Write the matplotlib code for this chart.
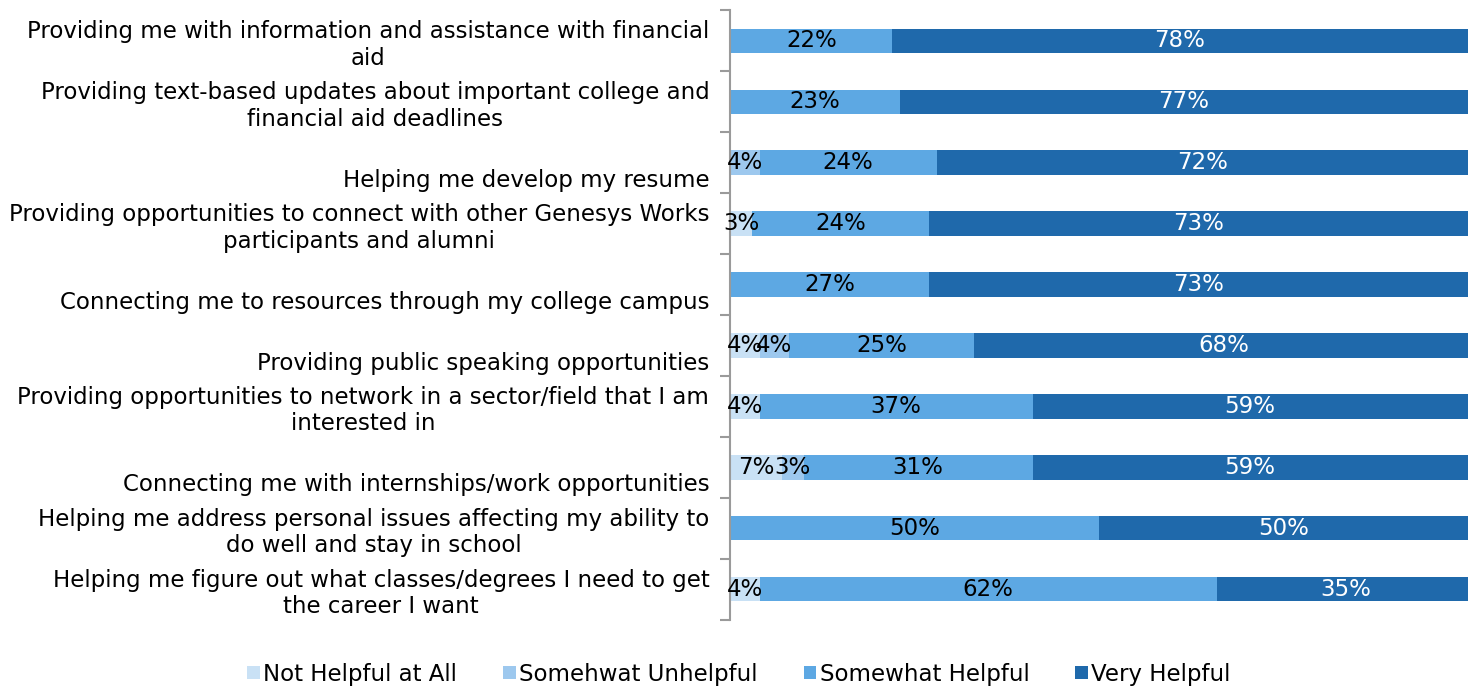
import numpy as np
import matplotlib.pyplot as plt

labels=['Providing me with information and assistance with financial\naid',
        'Providing text-based updates about important college and\nfinancial aid deadlines',
        '\nHelping me develop my resume',
        'Providing opportunities to connect with other Genesys Works\nparticipants and alumni',
        '\nConnecting me to resources through my college campus',
        '\nProviding public speaking opportunities',
        'Providing opportunities to network in a sector/field that I am\ninterested in',
        '\nConnecting me with internships/work opportunities',
        'Helping me address personal issues affecting my ability to\ndo well and stay in school',
        'Helping me figure out what classes/degrees I need to get\nthe career I want']

series=['Not Helpful at All','Somehwat Unhelpful','Somewhat Helpful','Very Helpful']
not_helpful=[0,0,0,3,0,4,4,7,0,4]
unhelpful=[0,0,4,0,0,4,0,3,0,0]
somewhat=[22,23,24,24,27,25,37,31,50,62]
very=[78,77,72,73,73,68,59,59,50,35]

colors=['#C9E1F5','#9DC8EE','#5DA8E3','#1F69AB']
txtcol=['black','black','black','white']
fs=16.5

fig=plt.figure(figsize=(14.78,6.87),dpi=100)
ax=fig.add_axes([0.494,0.098,0.499,0.887])

y=np.arange(len(labels))
left=np.zeros(len(labels))
for i,vals in enumerate([not_helpful,unhelpful,somewhat,very]):
    vals=np.array(vals,dtype=float)
    ax.barh(y,vals,left=left,height=0.4,color=colors[i],label=series[i])
    for j in range(len(vals)):
        if vals[j]>0:
            ax.text(left[j]+vals[j]/2,y[j],'%d%%'%vals[j],ha='center',va='center',
                    fontsize=fs,color=txtcol[i],clip_on=False)
    left=left+vals

ax.set_xlim(0,100)
ax.set_ylim(len(labels)-0.5,-0.5)

# labels at bar centres, tick marks at category boundaries
ax.set_yticks(np.arange(-0.5,len(labels)),minor=False)
ax.set_yticklabels([])
ax.set_yticks(y,minor=True)
ax.set_yticklabels(labels,minor=True,fontsize=fs,multialignment='center')
ax.tick_params(axis='y',which='minor',length=0,pad=15)
ax.tick_params(axis='y',which='major',length=7,color='#9A9A9A',width=1.5)
ax.set_xticks([])
for s in ['top','right','bottom']:
    ax.spines[s].set_visible(False)
ax.spines['left'].set_color('#9A9A9A')
ax.spines['left'].set_linewidth(1.5)

fig.legend(loc='lower center',bbox_to_anchor=(0.5,-0.028),ncol=4,frameon=False,fontsize=fs,
           handlelength=0.55,handleheight=0.55,handletextpad=0.15,columnspacing=2.0)

plt.savefig('out.png',dpi=100)
